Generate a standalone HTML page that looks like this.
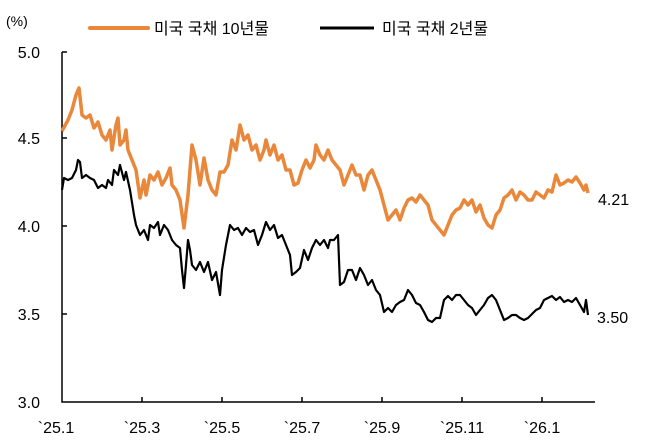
<!DOCTYPE html>
<html><head><meta charset="utf-8"><style>
body{margin:0;background:#fff;}
svg text{font-family:"Liberation Sans","Noto Sans CJK KR",sans-serif;fill:#000;}
</style></head><body>
<svg width="646" height="443" xmlns="http://www.w3.org/2000/svg">
<text x="6" y="26" font-size="14">(%)</text>
<line x1="90" y1="28" x2="148" y2="28" stroke="#E9873A" stroke-width="4" stroke-linecap="round"/>
<text x="154" y="34" font-size="16">미국 국채 10년물</text>
<line x1="320" y1="28" x2="374" y2="28" stroke="#000" stroke-width="3"/>
<text x="382" y="34" font-size="16">미국 국채 2년물</text>
<g font-size="16" text-anchor="end">
<text x="40" y="58">5.0</text><text x="40" y="144">4.5</text><text x="40" y="232">4.0</text><text x="40" y="320">3.5</text><text x="40" y="408">3.0</text>
</g>
<g stroke="#000" stroke-width="1.5" fill="none">
<path d="M62,52V402H595"/>
<path d="M62,52h5M62,138h5M62,226h5M62,314h5"/>
<path d="M142,397v5M222,397v5M302,397v5M382,397v5M462,397v5M542,397v5"/>
</g>
<g font-size="16" text-anchor="middle">
<text x="56" y="433">`25.1</text><text x="142" y="433">`25.3</text><text x="222" y="433">`25.5</text><text x="302" y="433">`25.7</text><text x="382" y="433">`25.9</text><text x="462" y="433">`25.11</text><text x="542" y="433">`26.1</text>
</g>
<polyline fill="none" stroke="#E9873A" stroke-width="3.5" stroke-linejoin="round" points="62,131 68,120 72,110 76,95 79,88 82,115 86,118 90,115 94,128 98,122 102,135 106,140 110,130 112,150 116,125 118,118 120,145 124,140 126,130 128,150 132,160 136,170 140,198 144,180 146,195 150,175 154,180 158,172 162,185 166,178 170,168 172,185 176,190 180,200 184,228 188,195 192,145 196,160 200,185 204,158 208,180 212,190 216,195 220,172 224,172 228,165 232,140 236,150 240,125 244,140 248,135 252,150 256,145 260,160 264,150 266,140 270,155 274,145 278,160 282,155 286,170 290,170 294,185 298,183 302,170 306,160 310,168 314,160 316,145 320,155 324,160 328,150 332,160 336,165 340,170 344,185 348,175 352,165 356,175 360,175 364,190 368,175 372,170 376,180 380,190 384,205 388,220 392,215 396,210 400,220 404,208 408,200 412,198 416,202 420,195 424,200 428,205 432,220 436,225 440,230 444,235 448,225 452,215 456,210 460,208 464,200 468,205 472,200 476,212 480,205 484,218 488,225 492,228 496,215 500,210 504,198 508,195 512,190 516,200 520,192 524,195 528,200 532,200 536,192 540,195 544,198 548,190 552,192 556,175 560,185 564,183 568,180 572,182 576,177 580,183 584,190 586,185 588,193"/>
<polyline fill="none" stroke="#000" stroke-width="2.2" stroke-linejoin="round" points="62,190 64,178 68,180 72,178 76,170 78,160 80,162 82,178 86,175 90,178 94,180 98,188 102,185 106,188 108,180 112,185 114,170 118,175 120,165 124,180 126,172 130,190 134,215 136,225 140,235 144,230 148,240 150,225 154,228 158,222 160,235 164,225 168,230 172,240 176,245 180,248 182,270 184,288 186,265 188,240 190,250 192,265 196,270 200,262 204,272 208,262 212,280 216,272 220,295 222,270 226,245 230,225 234,230 238,228 242,235 246,228 250,232 254,230 258,245 262,235 266,222 270,230 274,225 278,238 282,235 286,245 290,255 292,275 296,272 300,268 304,250 308,260 312,248 316,240 320,245 324,240 328,248 330,240 334,240 338,235 340,285 344,282 348,270 352,270 356,280 360,268 364,275 368,285 372,280 376,290 380,295 384,312 388,308 392,312 396,305 400,302 404,300 408,290 412,295 416,303 420,305 424,312 428,320 432,322 436,318 440,318 444,300 448,296 452,300 456,295 460,295 464,300 468,305 472,308 476,315 480,310 484,305 488,298 492,295 496,300 500,310 504,320 508,318 512,315 516,315 520,318 524,320 528,318 532,314 536,310 540,308 544,300 548,298 552,296 556,300 560,297 564,302 568,300 572,302 576,298 580,305 584,312 586,300 588,315"/>
<text x="598" y="205" font-size="16">4.21</text>
<text x="597" y="323" font-size="16">3.50</text>
</svg>
</body></html>
